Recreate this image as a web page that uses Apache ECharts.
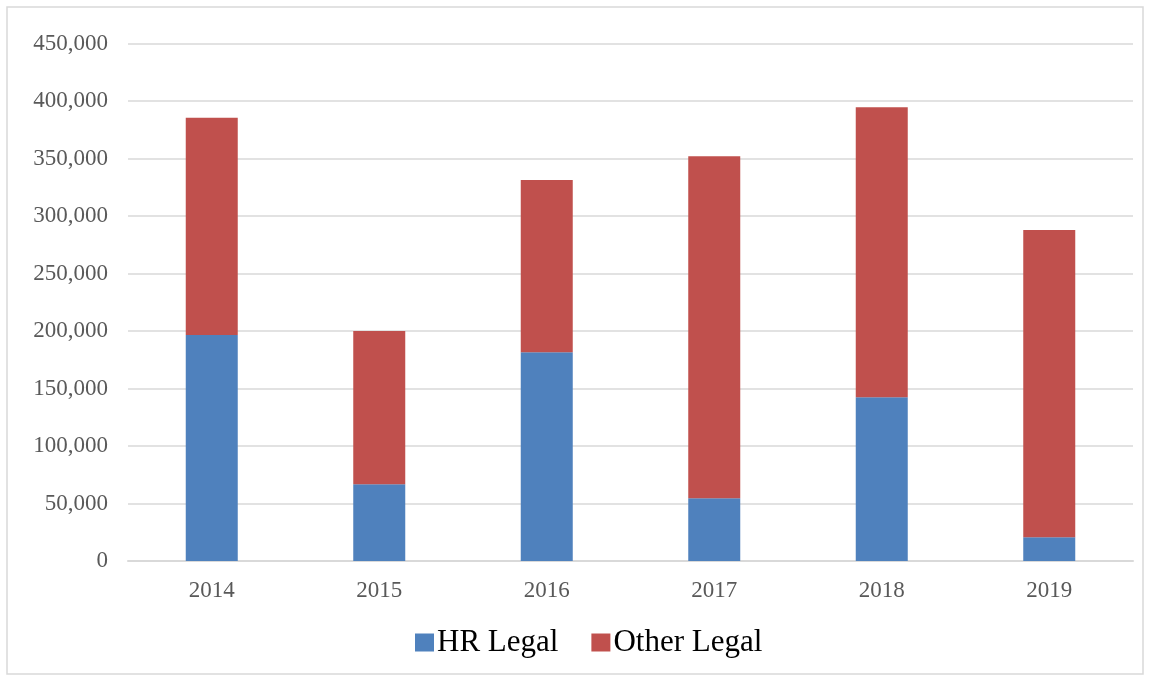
<!DOCTYPE html>
<html>
<head>
<meta charset="utf-8">
<script src="https://cdn.jsdelivr.net/npm/echarts@6/dist/echarts.min.js"></script>
<style>
html,body{margin:0;padding:0;background:#fff;}
#chart{width:1150px;height:679px;}
</style>
</head>
<body>
<div id="chart"></div>
<script>
const categories = ['2014','2015','2016','2017','2018','2019'];
const hrLegal = [196500, 66700, 181500, 54500, 142300, 20600];
const otherLegal = [189000, 133300, 149800, 297500, 252200, 267200];
const yTicks = [0, 50000, 100000, 150000, 200000, 250000, 300000, 350000, 400000, 450000];

const FONT = '"Liberation Serif", "Times New Roman", serif';
const chart = echarts.init(document.getElementById('chart'), null, {renderer:'canvas'});
chart.setOption({
  animation: false,
  backgroundColor: '#ffffff',
  graphic: [{
    type: 'rect',
    shape: {x: 7, y: 7, width: 1136, height: 667},
    style: {fill: 'none', stroke: '#d9d9d9', lineWidth: 1.5},
    silent: true
  }],
  grid: {left: 128, right: 17, top: 43.5, bottom: 118, containLabel: false},
  legend: {
    data: ['HR Legal', 'Other Legal'],
    left: 410,
    top: 622,
    icon: 'rect',
    itemWidth: 19,
    itemHeight: 18,
    itemGap: 33,
    textStyle: {fontFamily: FONT, fontSize: 31, color: '#000000', padding: [0,0,0,-2]}
  },
  xAxis: {
    type: 'category',
    data: categories,
    axisLine: {show: true, lineStyle: {color: '#d9d9d9', width: 2}},
    axisTick: {show: false},
    axisLabel: {fontFamily: FONT, fontSize: 23, color: '#595959', margin: 18}
  },
  yAxis: {
    type: 'value',
    min: yTicks[0],
    max: yTicks[yTicks.length - 1],
    interval: yTicks[1] - yTicks[0],
    axisLine: {show: false},
    axisTick: {show: false},
    splitLine: {lineStyle: {color: '#d9d9d9', width: 1.5}},
    axisLabel: {
      fontFamily: FONT, fontSize: 23, color: '#595959', margin: 20,
      formatter: v => v.toLocaleString('en-US')
    }
  },
  series: [
    {name: 'HR Legal', type: 'bar', stack: 'total', data: hrLegal, barWidth: 52,
     itemStyle: {color: '#4f81bd'}},
    {name: 'Other Legal', type: 'bar', stack: 'total', data: otherLegal, barWidth: 52,
     itemStyle: {color: '#c0504d'}}
  ]
});
</script>
</body>
</html>
